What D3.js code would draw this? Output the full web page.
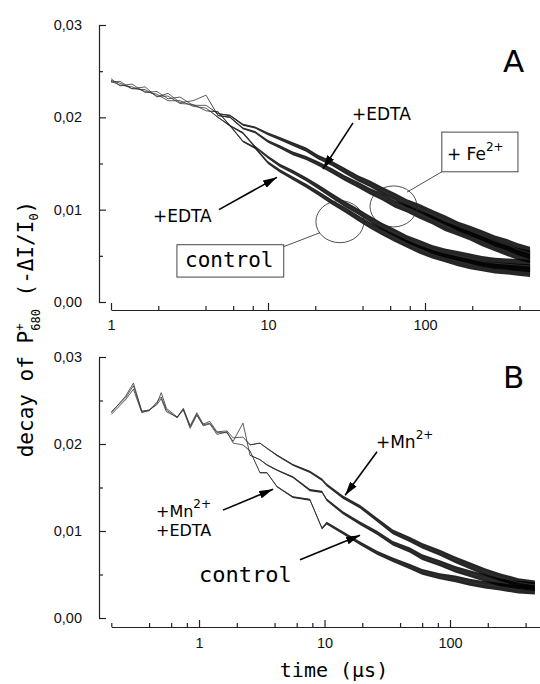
<!DOCTYPE html>
<html>
<head>
<meta charset="utf-8">
<script src="https://cdn.jsdelivr.net/npm/d3@7"></script>
<style>
  body { margin: 0; background: #fff; }
  svg { display: block; }
</style>
</head>
<body>
<script>
'use strict';

// ---- panel A: Fe2+ series, time in µs
var timeA = [1, 1.14, 1.36, 1.65, 1.96, 2.31, 2.75, 3.33, 4.03, 4.8, 5.73, 6.93, 8.27, 10, 11.9, 14.4,
  17.5, 20.8, 25.6, 30.9, 37.4, 44.6, 53.2, 64.4, 76.8, 91.6, 111, 134, 162, 194, 231, 279, 333, 391, 467];
var feEdtaA = [.0242, .0234, .0236, .0227, .0228, .0220, .0222, .0213, .0213, .0204, .0202, .0192, .0189, .0182,
  .0177, .0171, .0165, .0157, .0150, .0142, .0134, .0128, .0121, .0114, .0107, .0102, .0095, .0089, .0082,
  .0077, .0072, .0066, .0062, .0057, .0053];
var feA = [.0238, .0239, .0231, .0233, .0222, .0226, .0216, .0218, .0224, .0202, .0200, .0188, .0184, .0174,
  .0168, .0161, .0156, .0150, .0142, .0134, .0127, .0120, .0114, .0106, .0101, .0095, .0089, .0082, .0077,
  .0072, .0066, .0061, .0056, .0052, .0049];
var edtaA = [.0240, .0237, .0231, .0230, .0223, .0223, .0215, .0214, .0207, .0206, .0191, .0183, .0168, .0157,
  .0148, .0141, .0133, .0125, .0115, .0106, .0098, .0090, .0082, .0075, .0068, .0063, .0057, .0053, .0050,
  .0047, .0044, .0042, .0041, .0040, .0039];
var controlA = [.0239, .0235, .0233, .0228, .0225, .0218, .0218, .0212, .0210, .0200, .0191, .0174, .0167, .0151,
  .0142, .0134, .0126, .0118, .0108, .0100, .0091, .0083, .0076, .0069, .0063, .0057, .0052, .0048, .0044,
  .0041, .0039, .0037, .0036, .0035, .0034];
// half width of the noise band around each trace
var noiseA = [0, 0, 0, 0, 0, 0, 0, 0, 0, .00005, .00008, .0001, .00012, .00015, .00018, .0002, .00022, .00025,
  .00028, .0003, .00033, .00035, .00038, .0004, .00042, .00045, .00048, .0005, .00052, .00055, .00057, .0006,
  .00062, .00065, .00068];

// ---- panel B: Mn2+ series
var timeB = [0.2, 0.26, 0.3, 0.35, 0.4, 0.46, 0.5, 0.55, 0.67, 0.75, 0.85, 0.96, 1.08, 1.22, 1.39, 1.67, 1.87,
  2.24, 2.55, 3.06, 3.48, 4.18, 5.6, 7.65, 9.55, 10.4, 14, 19.2, 26.2, 35, 48, 60, 83, 110, 144, 190, 250, 350, 475];
var mnB = [.0236, .0255, .0270, .0238, .0239, .0246, .0259, .0241, .0231, .0241, .0221, .0236, .0223, .0226,
  .0214, .0215, .0207, .0208, .0199, .0201, .0195, .0187, .0176, .0168, .0159, .0153, .0139, .0128, .0113,
  .0099, .0090, .0083, .0075, .0067, .0060, .0053, .0047, .0041, .0038];
var mnEdtaB = [.0237, .0253, .0267, .0237, .0238, .0248, .0254, .0239, .0230, .0240, .0220, .0234, .0222, .0224,
  .0213, .0213, .0203, .0224, .0187, .0182, .0176, .0170, .0162, .0147, .0145, .0136, .0121, .0109, .0098,
  .0086, .0078, .0070, .0063, .0056, .0051, .0046, .0041, .0038, .0036];
var controlB = [.0234, .0251, .0263, .0236, .0239, .0245, .0252, .0237, .0231, .0239, .0218, .0233, .0221, .0223,
  .0211, .0214, .0201, .0199, .0192, .0167, .0167, .0151, .0139, .0136, .0103, .0109, .0098, .0086, .0075,
  .0067, .0059, .0053, .0048, .0045, .0041, .0038, .0036, .0033, .0032];
var noiseB = [0, 0, 0, 0, 0, 0, 0, 0, 0, 0, 0, 0, 0, 0, 0, 0, 0, 0, .00003, .00005, .00006, .00008, .0001,
  .00012, .00014, .00015, .00018, .0002, .00023, .00026, .0003, .00032, .00035, .00038, .0004, .00042,
  .00045, .00048, .0005];

// ticks
var yTicks = [0, 0.01, 0.02, 0.03];
var yMinor = [0.005, 0.015, 0.025];
var xTicks = [1, 10, 100];
var xMinorA = [2, 4, 6, 8, 20, 40, 60, 80, 200, 400];
var xMinorB = [0.2, 0.4, 0.6, 0.8, 2, 4, 6, 8, 20, 40, 60, 80, 200, 400];

var width = 540,
    height = 684;

var comma = d3.formatLocale({ decimal: ',', thousands: '.', grouping: [3], currency: ['', ''] }).format('.2f');

var svg = d3.select('body').append('svg')
    .attr('width', width)
    .attr('height', height)
    .style('background', '#fff');

svg.append('defs').append('marker')
    .attr('id', 'head')
    .attr('markerUnits', 'userSpaceOnUse')
    .attr('markerWidth', 14)
    .attr('markerHeight', 8)
    .attr('refX', 14)
    .attr('refY', 4)
    .attr('orient', 'auto')
  .append('path')
    .attr('d', 'M0,0L14,4L0,8Z')
    .attr('fill', '#000');

var panelA = {
  x: d3.scaleLog().domain([1, 1000]).range([111, 582]),
  y: d3.scaleLinear().domain([0, 0.03]).range([302, 25]),
  axisY: 310, axisX: 99, minor: xMinorA, labelPad: 10
};
var panelB = {
  x: d3.scaleLog().domain([0.2, 1000]).range([111.3, 575.5]),
  y: d3.scaleLinear().domain([0, 0.03]).range([618, 357]),
  axisY: 627, axisX: 99, minor: xMinorB, labelPad: 11
};

function drawAxes(p) {
  var gy = svg.append('g').attr('transform', 'translate(' + p.axisX + ',0)');
  gy.call(d3.axisLeft(p.y).tickValues(yTicks).tickSize(-7).tickSizeOuter(0).tickPadding(17).tickFormat(comma));
  gy.append('g').call(d3.axisLeft(p.y).tickValues(yMinor).tickSize(-4).tickFormat(''))
    .select('.domain').remove();

  var gx = svg.append('g').attr('transform', 'translate(0,' + p.axisY + ')');
  gx.call(d3.axisBottom(p.x).tickValues(xTicks).tickSize(-7).tickSizeOuter(0).tickPadding(p.labelPad)
    .tickFormat(d3.format('d')));
  gx.append('g').call(d3.axisBottom(p.x).tickValues(p.minor).tickSize(-4).tickFormat(''))
    .select('.domain').remove();

  svg.selectAll('.tick text')
      .style('font-family', '"Liberation Sans", Arial, sans-serif')
      .style('font-size', '14.5px')
      .attr('fill', '#111');
  svg.selectAll('.domain, .tick line').attr('stroke', '#222').attr('stroke-width', 1.2);
}

function drawTrace(p, time, vals, noise) {
  var pts = time.map(function(t, i) { return { t: t, v: vals[i], n: noise[i] }; });

  svg.append('path')
      .datum(pts)
      .attr('d', d3.area()
        .x(function(d) { return p.x(d.t); })
        .y0(function(d) { return p.y(d.v - d.n); })
        .y1(function(d) { return p.y(d.v + d.n); }))
      .attr('fill', '#000')
      .attr('fill-opacity', 0.85);

  svg.append('path')
      .datum(pts)
      .attr('d', d3.line()
        .x(function(d) { return p.x(d.t); })
        .y(function(d) { return p.y(d.v); }))
      .attr('fill', 'none')
      .attr('stroke', '#333')
      .attr('stroke-width', 0.8);
}

function arrow(p, from, to) {
  svg.append('line')
      .attr('x1', p.x(from[0])).attr('y1', p.y(from[1]))
      .attr('x2', p.x(to[0])).attr('y2', p.y(to[1]))
      .attr('stroke', '#000')
      .attr('stroke-width', 1.6)
      .attr('marker-end', 'url(#head)');
}

function leader(p, from, to) {
  svg.append('line')
      .attr('x1', p.x(from[0])).attr('y1', p.y(from[1]))
      .attr('x2', p.x(to[0])).attr('y2', p.y(to[1]))
      .attr('stroke', '#222')
      .attr('stroke-width', 0.8);
}

function ring(p, at, rx, ry) {
  svg.append('ellipse')
      .attr('cx', p.x(at[0])).attr('cy', p.y(at[1]))
      .attr('rx', rx).attr('ry', ry)
      .attr('fill', 'none')
      .attr('stroke', '#222')
      .attr('stroke-width', 0.8);
}

function box(p, a, b) {
  svg.append('rect')
      .attr('x', p.x(a[0])).attr('y', p.y(a[1]))
      .attr('width', p.x(b[0]) - p.x(a[0]))
      .attr('height', p.y(b[1]) - p.y(a[1]))
      .attr('fill', '#fff')
      .attr('stroke', '#333')
      .attr('stroke-width', 0.9);
}

// label with optional superscript; returns the text node
function label(p, at, main, sup, mono) {
  var t = svg.append('text')
      .attr('x', p.x(at[0]))
      .attr('y', p.y(at[1]))
      .style('font-family', mono ? '"DejaVu Sans Mono", monospace' : '"DejaVu Sans", sans-serif')
      .style('font-size', mono ? '21px' : '17px')
      .attr('fill', '#000')
      .text(main);
  if (sup) {
    t.append('tspan').attr('dy', -9).style('font-size', '12px').text(sup);
  }
  return t;
}

drawAxes(panelA);
drawAxes(panelB);

// traces
drawTrace(panelA, timeA, controlA, noiseA);
drawTrace(panelA, timeA, edtaA, noiseA);
drawTrace(panelA, timeA, feA, noiseA);
drawTrace(panelA, timeA, feEdtaA, noiseA);

drawTrace(panelB, timeB, controlB, noiseB);
drawTrace(panelB, timeB, mnEdtaB, noiseB);
drawTrace(panelB, timeB, mnB, noiseB);

// panel A notes
label(panelA, [34.3, 0.0197], '+EDTA');
arrow(panelA, [34.8, 0.0194], [22.4, 0.0144]);
label(panelA, [1.85, 0.0087], '+EDTA');
arrow(panelA, [4.87, 0.0100], [11.4, 0.0135]);
ring(panelA, [63, 0.01035], 23.5, 20.5);
leader(panelA, [76.8, 0.0119], [128, 0.0141]);
box(panelA, [128, 0.0184], [391, 0.0141]);
label(panelA, [138, 0.0154], '+ Fe', '2+');
ring(panelA, [28.7, 0.0087], 24, 21);
leader(panelA, [21.4, 0.0075], [12.6, 0.0060]);
box(panelA, [2.63, 0.0062], [12.6, 0.0027]);
label(panelA, [2.96, 0.0038], 'control', null, true);
label(panelA, [314, 0.0249], 'A').style('font-size', '31px');

// panel B notes
label(panelB, [25.7, 0.0195], '+Mn', '2+');
arrow(panelB, [26.2, 0.0191], [14.6, 0.0141]);
label(panelB, [0.454, 0.0116], '+Mn', '2+').style('font-size', '16px');
label(panelB, [0.454, 0.0094], '+EDTA').style('font-size', '16px');
arrow(panelB, [1.55, 0.0124], [3.89, 0.0148]);
label(panelB, [1, 0.0041], 'control', null, true).style('font-size', '22px');
arrow(panelB, [6.38, 0.0067], [19.2, 0.0095]);
label(panelB, [264, 0.0264], 'B').style('font-size', '31px');

// axis titles
var yTitle = svg.append('text')
    .attr('transform', 'translate(33,329) rotate(-90)')
    .attr('text-anchor', 'middle')
    .style('font-family', '"DejaVu Sans Mono", monospace')
    .style('font-size', '21px')
    .attr('fill', '#000');
yTitle.append('tspan').text('decay of P');
yTitle.append('tspan').attr('dy', -9).style('font-size', '12px').text('+');
yTitle.append('tspan').attr('dx', -7.2).attr('dy', 16).style('font-size', '12px').text('680');
yTitle.append('tspan').attr('dy', -7).text('  (-\u0394I/I');
yTitle.append('tspan').attr('dy', 5).style('font-size', '12px').text('0');
yTitle.append('tspan').attr('dy', -5).text(')');

svg.append('text')
    .attr('x', 334)
    .attr('y', 677)
    .attr('text-anchor', 'middle')
    .style('font-family', '"DejaVu Sans Mono", monospace')
    .style('font-size', '20px')
    .attr('fill', '#000')
    .text('time (\u03bcs)');
</script>
</body>
</html>
